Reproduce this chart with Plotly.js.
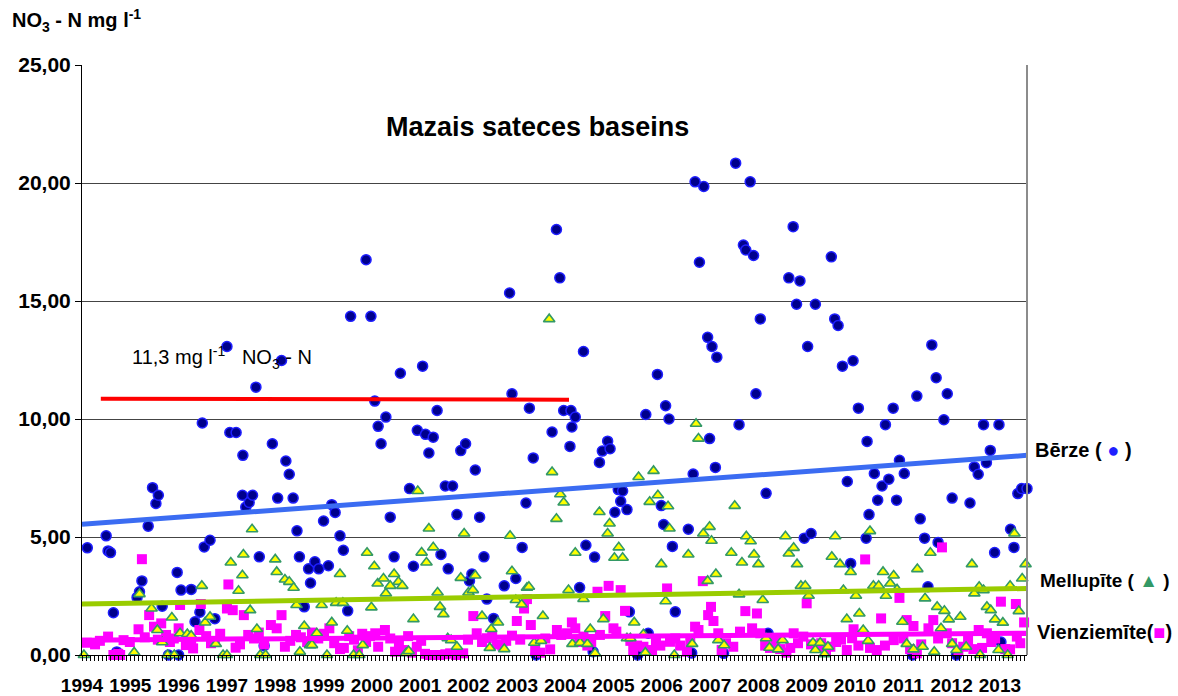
<!DOCTYPE html>
<html>
<head>
<meta charset="utf-8">
<script src="https://cdn.plot.ly/plotly-3.0.1.min.js"></script>
<style>html,body{margin:0;padding:0;background:#fff;}#chart{width:1178px;height:696px;}</style>
</head>
<body>
<div id="chart"></div>
<script>
// ---- DATA ----
const yearLabels = ["1994","1995","1996","1997","1998","1999","2000","2001","2002","2003","2004","2005","2006","2007","2008","2009","2010","2011","2012","2013"];
const yearTicks = [1994,1995,1996,1997,1998,1999,2000,2001,2002,2003,2004,2005,2006,2007,2008,2009,2010,2011,2012,2013];

// Bērze samples: [decimal year, NO3-N mg/l]
const berzeSamples = [
[1994.11,4.54],[1994.50,5.05],[1994.54,4.41],[1994.59,4.34],[1994.65,1.79],[1994.72,0.13],
[1995.14,2.44],[1995.19,2.68],[1995.24,3.14],[1995.37,5.46],[1995.46,7.09],[1995.53,6.42],[1995.58,6.77],[1995.66,2.07],[1995.79,0.0],[1995.97,3.50],
[1996.00,0.0],[1996.05,2.75],[1996.26,2.78],[1996.34,1.41],[1996.44,1.81],[1996.49,9.83],[1996.53,4.58],[1996.65,4.86],[1996.75,1.54],
[1997.00,13.07],[1997.06,9.43],[1997.19,9.43],[1997.32,6.77],[1997.33,8.46],[1997.39,6.27],[1997.46,6.46],[1997.53,6.77],[1997.60,11.35],[1997.67,4.16],[1997.77,0.39],[1997.94,8.95],
[1998.05,6.65],[1998.13,12.48],[1998.22,8.22],[1998.29,7.66],[1998.37,6.65],[1998.45,5.26],[1998.50,4.16],[1998.60,2.04],[1998.69,3.65],[1998.73,3.05],[1998.82,3.95],[1998.90,3.65],
[1999.00,5.68],[1999.10,3.78],[1999.17,6.37],[1999.24,6.04],[1999.34,5.05],[1999.41,4.44],[1999.50,1.87],[1999.56,14.35],[1999.88,16.75],[1999.98,14.35],
[2000.06,10.76],[2000.13,9.69],[2000.19,8.95],[2000.29,10.08],[2000.38,5.84],[2000.46,4.16],[2000.59,11.94],[2000.78,7.05],[2000.86,3.76],[2000.94,9.52],
[2001.05,12.24],[2001.11,9.35],[2001.18,8.56],[2001.27,9.23],[2001.35,10.36],[2001.43,4.26],[2001.52,7.16],[2001.58,3.65],[2001.67,7.16],[2001.76,5.95],[2001.84,8.66],[2001.94,8.95],
[2002.02,3.14],[2002.07,3.43],[2002.14,7.84],[2002.23,5.84],[2002.32,4.16],[2002.38,2.37],[2002.52,1.55],[2002.74,2.93],[2002.85,15.34],[2002.90,11.07],[2002.98,3.24],
[2003.11,4.56],[2003.19,6.44],[2003.26,10.46],[2003.34,8.35],[2003.40,0.0],[2003.73,9.45],[2003.82,18.03],[2003.89,15.98],[2003.97,10.36],
[2004.10,8.84],[2004.12,10.36],[2004.14,9.66],[2004.21,10.08],[2004.30,2.86],[2004.38,12.86],[2004.43,4.65],[2004.58,0.14],[2004.61,4.15],[2004.71,8.16],[2004.77,8.64],[2004.88,9.06],[2004.93,8.74],
[2005.03,6.05],[2005.10,7.01],[2005.15,6.51],[2005.19,6.95],[2005.28,6.16],[2005.33,1.83],[2005.50,0.0],[2005.67,10.19],[2005.72,0.92],[2005.91,11.89],[2005.99,6.33],
[2006.04,5.53],[2006.08,10.56],[2006.15,10.0],[2006.22,4.60],[2006.28,1.83],[2006.55,5.33],[2006.62,0.08],[2006.65,7.67],[2006.69,20.05],[2006.78,16.64],[2006.87,19.85],[2006.95,13.46],[2006.99,9.17],
[2007.04,13.07],[2007.11,7.95],[2007.14,12.62],[2007.28,0.07],[2007.53,20.84],[2007.60,9.76],[2007.69,17.37],[2007.74,17.16],[2007.83,20.05],[2007.90,16.93],[2007.95,11.07],
[2008.04,14.24],[2008.16,6.85],[2008.20,0.92],[2008.63,15.98],[2008.72,18.15],[2008.79,14.86],[2008.86,15.85],[2008.95,4.95],
[2009.02,13.07],[2009.09,5.15],[2009.18,14.86],[2009.51,16.87],[2009.58,14.24],[2009.65,13.96],[2009.74,12.24],[2009.84,7.35],[2009.91,3.88],[2009.96,12.47],
[2010.07,10.46],[2010.23,4.95],[2010.25,9.05],[2010.29,5.95],[2010.40,7.69],[2010.47,6.56],[2010.56,7.16],[2010.63,9.76],[2010.70,7.45],[2010.79,10.46],[2010.86,6.56],[2010.92,8.25],
[2011.02,7.69],[2011.19,0.0],[2011.28,10.97],[2011.35,5.77],[2011.44,4.95],[2011.51,2.89],[2011.59,13.14],[2011.68,11.75],[2011.72,4.77],[2011.84,9.97],[2011.91,11.07],
[2012.01,6.65],[2012.10,0.0],[2012.38,6.44],[2012.47,7.97],[2012.55,7.66],[2012.66,9.76],[2012.72,8.15],[2012.80,8.67],[2012.89,4.34],[2012.98,9.76],
[2013.02,0.55],[2013.22,5.33],[2013.29,4.56],[2013.37,6.84],[2013.45,7.05],[2013.56,7.05]
];

// Mellupīte samples
const mellupiteSamples = [
[1994.04,0.0],[1995.08,0.11],[1995.19,2.58],[1995.44,1.97],[1995.56,1.06],[1995.66,0.54],[1995.77,0.0],[1995.86,1.59],[1995.91,0.0],
[1996.03,0.92],[1996.18,0.89],[1996.26,0.82],[1996.48,2.93],[1996.55,1.38],[1996.65,1.62],[1996.77,0.47],[1996.92,0.0],
[1997.00,0.0],[1997.08,3.92],[1997.24,2.72],[1997.32,3.38],[1997.34,4.26],[1997.48,1.90],[1997.52,5.33],[1997.62,1.10],[1997.69,0.0],[1997.80,0.0],
[1998.00,4.05],[1998.03,3.52],[1998.20,3.20],[1998.29,3.10],[1998.38,2.85],[1998.44,2.12],[1998.51,0.14],[1998.60,1.23],[1998.72,0.42],[1998.76,0.42],[1998.86,0.92],[1998.96,2.12],
[1999.07,0.0],[1999.17,1.38],[1999.26,2.21],[1999.34,3.43],[1999.40,2.21],[1999.49,1.03],[1999.62,0.0],[1999.74,0.0],[1999.81,0.42],[1999.90,4.33],[1999.99,2.02],
[2000.05,3.76],[2000.12,3.03],[2000.24,3.24],[2000.29,2.61],[2000.38,2.93],[2000.46,3.43],[2000.55,3.10],[2000.63,2.93],[2000.71,0.08],[2000.76,0.17],[2000.86,1.52],[2000.95,6.95],
[2001.03,4.34],[2001.13,3.92],[2001.18,5.36],[2001.27,4.56],[2001.36,2.65],[2001.41,2.04],[2001.48,1.73],[2001.57,0.71],[2001.64,0.63],[2001.76,0.35],[2001.84,3.27],[2001.91,5.15],
[2002.00,2.65],[2002.09,2.75],[2002.14,3.37],[2002.28,1.65],[2002.44,0.30],[2002.47,1.10],[2002.61,1.38],[2002.74,0.25],[2002.86,5.05],[2002.90,3.55],[2002.98,2.33],
[2003.10,2.14],[2003.21,2.85],[2003.25,2.89],[2003.36,0.52],[2003.50,0.60],[2003.54,1.65],[2003.67,14.23],[2003.73,7.75],[2003.82,5.77],[2003.90,6.81],[2003.97,6.46],
[2004.07,2.75],[2004.15,0.47],[2004.21,4.33],[2004.31,0.52],[2004.38,2.37],[2004.46,0.47],[2004.52,1.10],[2004.62,0.07],[2004.71,6.06],[2004.79,1.52],[2004.88,5.15],[2004.92,5.57],
[2005.02,4.12],[2005.11,4.56],[2005.19,4.12],[2005.28,0.71],[2005.35,0.71],[2005.43,1.38],[2005.52,7.54],[2005.62,0.88],[2005.66,0.10],[2005.75,6.49],[2005.83,7.80],[2005.92,6.77],[2005.99,3.85],
[2006.08,2.28],[2006.13,6.30],[2006.16,5.36],[2006.26,0.0],[2006.55,4.26],[2006.63,0.47],[2006.71,9.80],[2006.76,9.17],[2006.86,5.15],[2006.95,3.14],[2006.99,5.43],
[2007.03,4.84],[2007.12,3.43],[2007.17,0.63],[2007.29,0.41],[2007.44,4.33],[2007.51,6.32],[2007.60,2.57],[2007.66,3.92],[2007.75,5.03],[2007.84,4.82],[2007.91,4.26],
[2008.00,3.85],[2008.09,2.33],[2008.16,0.71],[2008.23,0.31],[2008.41,0.24],[2008.50,0.63],[2008.56,5.03],[2008.63,4.30],[2008.73,4.54],[2008.80,3.85],[2008.88,2.93],[2008.97,2.93],
[2009.04,2.51],[2009.13,0.52],[2009.18,0.21],[2009.28,0.52],[2009.37,0.03],[2009.44,0.35],[2009.52,4.16],[2009.59,5.03],[2009.69,3.85],[2009.76,2.75],[2009.83,1.52],[2009.91,3.52],
[2010.02,2.51],[2010.09,1.76],[2010.17,1.06],[2010.27,0.60],[2010.31,5.25],[2010.38,2.93],[2010.49,2.93],[2010.58,3.52],[2010.64,2.51],[2010.73,3.03],[2010.80,3.37],[2010.87,2.78],[2010.98,1.41],
[2011.07,0.47],[2011.21,0.24],[2011.29,3.64],[2011.40,0.35],[2011.45,2.40],[2011.56,4.33],[2011.64,0.14],[2011.70,2.04],[2011.78,1.13],[2011.85,1.87],[2011.94,1.51],
[2012.01,0.47],[2012.10,0.21],[2012.18,1.62],[2012.30,0.35],[2012.42,3.85],[2012.47,2.61],[2012.57,2.89],[2012.59,0.0],[2012.66,2.75],[2012.73,2.04],[2012.81,1.90],[2012.90,1.51],[2012.97,0.21],
[2013.06,1.37],[2013.16,0.0],[2013.21,2.93],[2013.30,5.15],[2013.39,1.86],[2013.46,3.24],[2013.53,3.85]
];

// Vienziemīte samples
const vienziemiteSamples = [
[1994.10,0.52],[1994.27,0.45],[1994.37,0.60],[1994.54,0.78],[1994.65,0.0],[1994.75,0.05],[1994.79,0.0],[1994.86,0.63],[1994.99,0.55],
[1995.17,1.09],[1995.24,4.06],[1995.30,0.75],[1995.39,1.69],[1995.49,1.20],[1995.57,0.65],[1995.64,1.34],[1995.74,0.85],[1995.82,0.55],[1995.90,0.70],
[1996.00,1.13],[1996.03,2.12],[1996.15,0.42],[1996.26,0.50],[1996.30,0.28],[1996.43,1.06],[1996.46,2.16],[1996.57,0.80],[1996.67,0.50],[1996.75,0.60],[1996.86,0.90],
[1997.00,1.97],[1997.03,2.99],[1997.12,1.90],[1997.18,0.31],[1997.27,0.45],[1997.35,1.69],[1997.44,0.85],[1997.56,0.70],[1997.66,0.95],[1997.77,0.45],[1997.91,1.27],
[1998.03,1.13],[1998.13,1.69],[1998.20,0.35],[1998.31,0.60],[1998.43,0.85],[1998.53,0.75],[1998.66,0.55],[1998.76,0.95],[1998.89,0.70],
[1999.01,0.90],[1999.12,1.13],[1999.22,0.50],[1999.34,0.25],[1999.42,0.30],[1999.53,0.80],[1999.63,0.65],[1999.71,0.20],[1999.80,0.90],[1999.88,0.55],[1999.96,0.80],
[2000.07,0.92],[2000.13,0.35],[2000.27,1.06],[2000.38,0.70],[2000.48,0.14],[2000.56,0.45],[2000.65,0.21],[2000.75,0.80],[2000.83,0.10],[2000.93,0.35],
[2001.02,0.60],[2001.10,0.05],[2001.20,0.0],[2001.31,0.0],[2001.41,0.0],[2001.52,0.03],[2001.62,0.07],[2001.74,0.0],[2001.89,0.07],[2001.99,0.65],
[2002.10,1.65],[2002.17,0.92],[2002.28,0.55],[2002.38,0.71],[2002.49,0.80],[2002.59,0.45],[2002.70,0.40],[2002.78,0.60],[2002.90,0.82],
[2003.00,1.44],[2003.07,0.65],[2003.15,1.97],[2003.21,2.37],[2003.29,1.27],[2003.38,0.21],[2003.48,0.10],[2003.59,0.70],[2003.69,0.24],[2003.83,1.06],[2003.92,0.85],
[2004.04,0.92],[2004.14,1.38],[2004.21,1.13],[2004.29,0.55],[2004.38,0.78],[2004.46,0.40],[2004.54,0.55],[2004.67,2.68],[2004.72,0.85],[2004.83,1.65],[2004.90,2.93],
[2005.00,1.13],[2005.06,0.99],[2005.15,2.75],[2005.24,1.87],[2005.35,0.60],[2005.41,0.21],[2005.49,0.40],[2005.62,0.35],[2005.72,0.20],[2005.80,0.21],[2005.88,0.60],[2005.97,0.40],
[2006.11,2.82],[2006.17,0.56],[2006.28,0.70],[2006.38,0.40],[2006.52,0.14],[2006.59,0.55],[2006.69,1.20],[2006.76,1.06],[2006.85,3.13],[2006.96,1.69],
[2007.02,2.04],[2007.07,1.44],[2007.17,0.92],[2007.24,0.21],[2007.33,0.50],[2007.48,0.35],[2007.62,0.99],[2007.73,1.86],[2007.87,1.13],[2007.97,1.76],
[2008.04,0.92],[2008.14,0.40],[2008.24,0.30],[2008.35,0.55],[2008.45,0.25],[2008.58,0.10],[2008.66,0.30],[2008.73,0.92],[2008.82,0.50],[2008.93,0.78],
[2009.00,2.19],[2009.09,0.45],[2009.20,0.35],[2009.30,0.50],[2009.40,0.20],[2009.49,0.35],[2009.61,0.55],[2009.71,0.65],[2009.83,0.21],[2009.94,0.71],[2009.97,1.09],
[2010.07,0.40],[2010.21,4.05],[2010.31,0.30],[2010.45,0.21],[2010.54,1.55],[2010.62,0.40],[2010.80,0.63],[2010.92,2.42],
[2011.00,0.70],[2011.07,1.48],[2011.14,0.25],[2011.21,1.23],[2011.28,0.07],[2011.37,0.45],[2011.52,1.13],[2011.62,1.48],[2011.72,0.70],[2011.80,4.56],[2011.90,0.92],
[2012.01,0.50],[2012.14,0.20],[2012.24,0.35],[2012.34,0.60],[2012.45,0.25],[2012.56,1.06],[2012.63,0.30],[2012.73,0.92],[2012.82,0.55],[2012.90,0.70],
[2013.02,2.26],[2013.11,0.25],[2013.21,0.24],[2013.33,2.16],[2013.35,0.78],[2013.42,0.50],[2013.50,1.38]
];

// Linear trend lines (end points)
const trendYears = [1994.0, 2013.56];
const berzeTrend = [5.54, 8.46];
const mellupiteTrend = [2.16, 2.82];
const vienziemiteTrend = [0.63, 0.92];

// Limit line 11,3 mg/l NO3 (as drawn)
const limitYears = [1994.39, 2004.08];
const limitValues = [10.86, 10.82];

// ---- CHART ----
const FONT = "Liberation Sans, Arial, sans-serif";
const col = (arr, i) => arr.map(d => d[i]);

const traces = [
  {x: col(berzeSamples,0), y: col(berzeSamples,1), type:'scatter', mode:'markers', cliponaxis:false,
   marker:{symbol:'circle', size:10, color:'#00008c', line:{color:'#1f1fff', width:1.5}}},
  {x: col(vienziemiteSamples,0), y: col(vienziemiteSamples,1), type:'scatter', mode:'markers', cliponaxis:false,
   marker:{symbol:'square', size:10, color:'#ff00ff', line:{width:0}}},
  {x: col(mellupiteSamples,0), y: col(mellupiteSamples,1), type:'scatter', mode:'markers', cliponaxis:false,
   marker:{symbol:'triangle-up', size:10, color:'#ffff00', line:{color:'#339966', width:1.6}}},
  {x: trendYears, y: berzeTrend, type:'scatter', mode:'lines', line:{color:'#3b6cf2', width:5}},
  {x: trendYears, y: mellupiteTrend, type:'scatter', mode:'lines', line:{color:'#99cc00', width:5}},
  {x: trendYears, y: vienziemiteTrend, type:'scatter', mode:'lines', line:{color:'#ff00ff', width:5}},
  {x: limitYears, y: limitValues, type:'scatter', mode:'lines', line:{color:'#ff0000', width:4}}
];

const layout = {
  width:1178, height:696,
  margin:{l:82, r:151, t:65, b:41, pad:0},
  paper_bgcolor:'#fff', plot_bgcolor:'#fff',
  showlegend:false, hovermode:false,
  separators:',.',
  font:{family:FONT, color:'#000'},
  xaxis:{
    range:[1994, 2013.56], tickmode:'array', tickvals:yearTicks, ticktext:yearLabels,
    showgrid:false, zeroline:false, showline:true, linecolor:'#000', linewidth:1,
    ticks:'outside', ticklen:5, tickcolor:'#000', tickwidth:1,
    ticklabelstandoff:8,
    tickfont:{family:FONT, size:19, weight:'bold', color:'#000'},
    minor:{tickmode:'linear', tick0:1994, dtick:1/12, ticks:'outside', ticklen:5, tickcolor:'#000', tickwidth:1, showgrid:false}
  },
  yaxis:{
    range:[0,25], tickmode:'linear', tick0:0, dtick:5, tickformat:'.2f',
    showgrid:true, gridcolor:'#444', gridwidth:1, zeroline:false,
    showline:true, linecolor:'#000', linewidth:1,
    ticks:'outside', ticklen:6, tickcolor:'#000',
    tickfont:{family:FONT, size:21, weight:'bold', color:'#000'}
  },
  shapes:[
    {type:'line', xref:'paper', yref:'paper', x0:1, x1:1, y0:0, y1:1, line:{color:'#8c8c8c', width:2}}
  ],
  annotations:[
    {xref:'paper', yref:'paper', x:0.4815, y:0.895, xanchor:'center', yanchor:'middle', showarrow:false,
     text:'<b>Mazais sateces baseins</b>', font:{family:FONT, size:27, color:'#000'}},
    {xref:'paper', yref:'paper', x:-0.0762, y:1.076, xanchor:'left', yanchor:'middle', showarrow:false,
     text:'<b>NO<sub>3</sub> - N mg l<sup>-1</sup></b>', font:{family:FONT, size:20, color:'#000'}},
    {xref:'x', yref:'y', x:1994.99, y:12.6, xanchor:'left', yanchor:'middle', showarrow:false,
     text:'11,3 mg l<sup>-1</sup>   NO<sub>3</sub> - N', font:{family:FONT, size:20, color:'#000'}},
    {xref:'paper', yref:'paper', x:1.0063, y:0.3475, xanchor:'left', yanchor:'middle', showarrow:false,
     text:'<b>Bērze ( <span style="color:#1f1fff">●</span> )</b>', font:{family:FONT, size:20, color:'#000'}},
    {xref:'paper', yref:'paper', x:1.0116, y:0.1271, xanchor:'left', yanchor:'middle', showarrow:false,
     text:'<b>Mellupīte ( <span style="color:#339966">▲</span> )</b>', font:{family:FONT, size:19, color:'#000'}},
    {xref:'paper', yref:'paper', x:1.0085, y:0.039, xanchor:'left', yanchor:'middle', showarrow:false,
     text:'<b>Vienziemīte(<span style="color:#ff00ff">■</span>)</b>', font:{family:FONT, size:20, color:'#000'}}
  ]
};

Plotly.newPlot('chart', traces, layout, {staticPlot:true, displayModeBar:false});
</script>
</body>
</html>
